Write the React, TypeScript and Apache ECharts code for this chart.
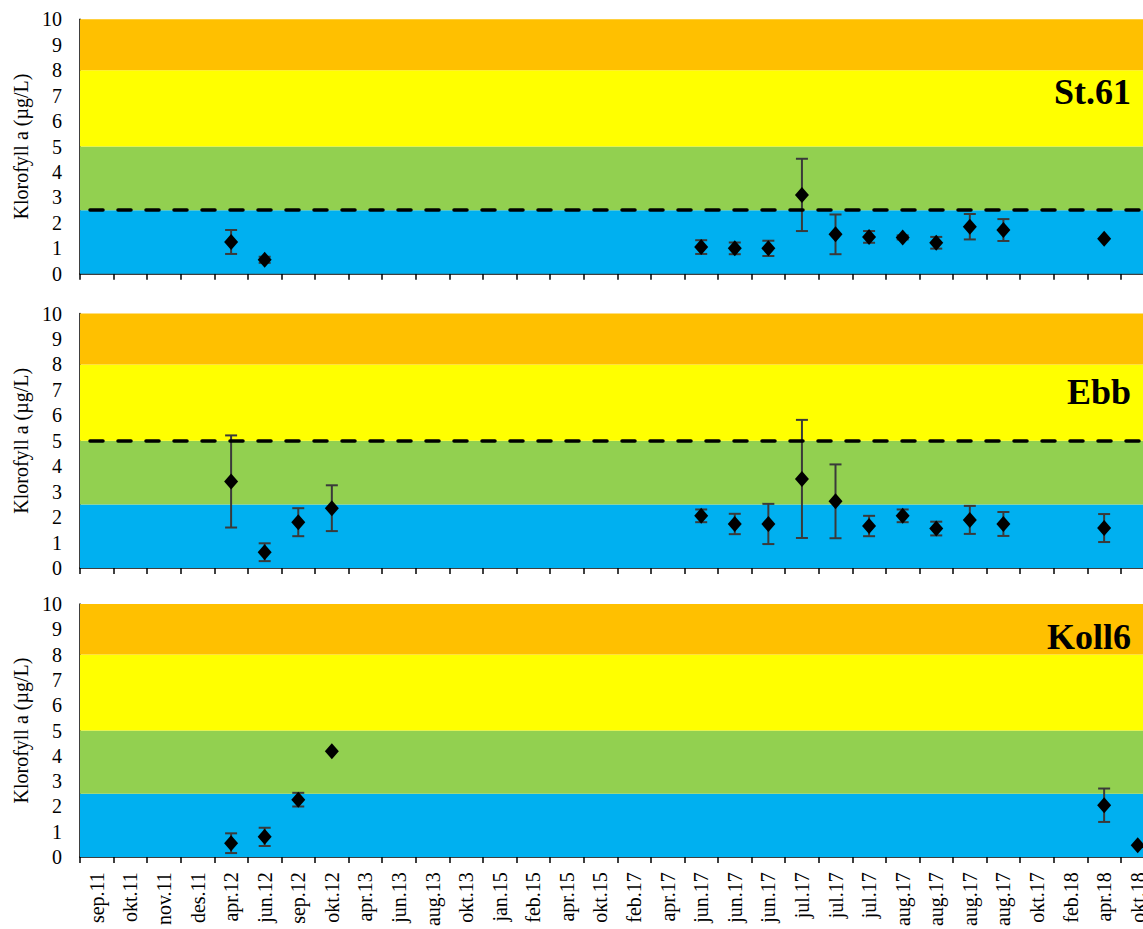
import React, { useEffect, useRef } from "react";
import * as echarts from "echarts";

const categories = [
  "sep.11", "okt.11", "nov.11", "des.11", "apr.12", "jun.12", "sep.12", "okt.12",
  "apr.13", "jun.13", "aug.13", "okt.13", "jan.15", "feb.15", "apr.15", "okt.15",
  "feb.17", "apr.17", "jun.17", "jun.17", "jun.17", "jul.17", "jul.17", "jul.17",
  "aug.17", "aug.17", "aug.17", "aug.17", "okt.17", "feb.18", "apr.18", "okt.18",
];

const yTicks = [0, 1, 2, 3, 4, 5, 6, 7, 8, 9, 10];

const st61Values = [
  null, null, null, null, 1.25, 0.55, null, null,
  null, null, null, null, null, null, null, null,
  null, null, 1.05, 1.0, 1.0, 3.1, 1.55, 1.45,
  1.43, 1.22, 1.85, 1.72, null, null, 1.38, null,
];
const st61Err = [
  0, 0, 0, 0, 0.47, 0.12, 0, 0,
  0, 0, 0, 0, 0, 0, 0, 0,
  0, 0, 0.27, 0.23, 0.3, 1.42, 0.78, 0.23,
  0.08, 0.23, 0.5, 0.43, 0, 0, 0, 0,
];

const ebbValues = [
  null, null, null, null, 3.4, 0.62, 1.8, 2.35,
  null, null, null, null, null, null, null, null,
  null, null, 2.05, 1.73, 1.73, 3.5, 2.62, 1.65,
  2.05, 1.55, 1.89, 1.73, null, null, 1.57, null,
];
const ebbErr = [
  0, 0, 0, 0, 1.81, 0.35, 0.55, 0.9,
  0, 0, 0, 0, 0, 0, 0, 0,
  0, 0, 0.25, 0.4, 0.79, 2.32, 1.45, 0.4,
  0.25, 0.27, 0.55, 0.47, 0, 0, 0.55, 0,
];

const koll6Values = [
  null, null, null, null, 0.55, 0.8, 2.27, 4.18,
  null, null, null, null, null, null, null, null,
  null, null, null, null, null, null, null, null,
  null, null, null, null, null, null, 2.05, 0.47,
];
const koll6Err = [
  0, 0, 0, 0, 0.39, 0.36, 0.27, 0,
  0, 0, 0, 0, 0, 0, 0, 0,
  0, 0, 0, 0, 0, 0, 0, 0,
  0, 0, 0, 0, 0, 0, 0.66, 0,
];

const stationNames = ["St.61", "Ebb", "Koll6"];
const thresholds = [2.5, 5, null];
const classBands = [
  { from: 0, to: 2.5, color: "#00B0F0" },
  { from: 2.5, to: 5, color: "#92D050" },
  { from: 5, to: 8, color: "#FFFF00" },
  { from: 8, to: 10, color: "#FFC000" },
];

const FONT = "'Liberation Serif', 'Times New Roman', serif";

export default function App() {
  const ref = useRef<HTMLDivElement>(null);

  useEffect(() => {
    if (!ref.current) return;
    const chart = echarts.init(ref.current, null, { renderer: "svg" });

    const panelValues = [st61Values, ebbValues, koll6Values];
    const panelErr = [st61Err, ebbErr, koll6Err];
    const gridTops = [19.3, 313.5, 604];
    const gridHeight = 254.5;
    const titleY = [92, 392, 637];

    const grids = gridTops.map((t) => ({
      left: 80,
      top: t,
      width: 1074.5,
      height: gridHeight,
      containLabel: false,
    }));

    const xAxes = gridTops.map((_, i) => ({
      type: "category",
      gridIndex: i,
      data: categories,
      boundaryGap: true,
      axisLine: { show: true, lineStyle: { color: "#000", width: 1.5 } },
      axisTick: { show: true, inside: false, length: 6, interval: 0, alignWithLabel: false, lineStyle: { color: "#000", width: 1.5 } },
      axisLabel: {
        show: i === 2,
        interval: 0,
        rotate: 90,
        margin: 15,
        fontSize: 20,
        fontFamily: FONT,
        color: "#000",
      },
      splitLine: { show: false },
    }));

    const yAxes = gridTops.map((_, i) => ({
      type: "value",
      gridIndex: i,
      min: yTicks[0],
      max: yTicks[yTicks.length - 1],
      interval: 1,
      name: "Klorofyll a (µg/L)",
      nameLocation: "middle",
      nameGap: 49,
      nameTextStyle: { fontSize: 20, fontFamily: FONT, color: "#000" },
      axisLine: { show: true, lineStyle: { color: "#000", width: 1.5 } },
      axisTick: { show: false },
      axisLabel: { fontSize: 20, fontFamily: FONT, color: "#000", margin: 18 },
      splitLine: { show: false },
    }));

    const series: any[] = [];
    panelValues.forEach((vals, p) => {
      // colour classes
      series.push({
        type: "line",
        xAxisIndex: p,
        yAxisIndex: p,
        data: [],
        silent: true,
        z: 1,
        markArea: {
          silent: true,
          data: classBands.map((b) => [
            { yAxis: b.from, itemStyle: { color: b.color, opacity: 1 } },
            { yAxis: b.to },
          ]),
        },
      });
      // threshold line
      if (thresholds[p] != null) {
        series.push({
          type: "line",
          xAxisIndex: p,
          yAxisIndex: p,
          data: [],
          silent: true,
          z: 4,
          markLine: {
            silent: true,
            symbol: ["none", "none"],
            label: { show: false },
            lineStyle: { color: "#000", type: [13, 15], dashOffset: -10, width: 3.5, cap: "round" },
            data: [{ yAxis: thresholds[p] }],
          },
        });
      }
      // error bars
      const errData: any[] = [];
      vals.forEach((v, i) => {
        if (v != null && panelErr[p][i] > 0) {
          errData.push([i, v - panelErr[p][i], v + panelErr[p][i]]);
        }
      });
      series.push({
        type: "custom",
        xAxisIndex: p,
        yAxisIndex: p,
        z: 3,
        encode: { x: 0, y: [1, 2] },
        data: errData,
        renderItem: (params: any, api: any) => {
          const x = api.value(0);
          const pLo = api.coord([x, api.value(1)]);
          const pHi = api.coord([x, api.value(2)]);
          const hw = 6;
          const style = { stroke: "#3a3a3a", lineWidth: 2 };
          return {
            type: "group",
            children: [
              { type: "line", shape: { x1: pLo[0], y1: pLo[1], x2: pHi[0], y2: pHi[1] }, style },
              { type: "line", shape: { x1: pLo[0] - hw, y1: pLo[1], x2: pLo[0] + hw, y2: pLo[1] }, style },
              { type: "line", shape: { x1: pHi[0] - hw, y1: pHi[1], x2: pHi[0] + hw, y2: pHi[1] }, style },
            ],
          };
        },
      });
      // diamonds
      series.push({
        type: "scatter",
        xAxisIndex: p,
        yAxisIndex: p,
        z: 5,
        symbol: "diamond",
        symbolSize: [14, 16],
        itemStyle: { color: "#000", opacity: 1 },
        data: vals.map((v, i) => (v == null ? [i, "-"] : [i, v])),
      });
    });

    const graphic = stationNames.map((name, i) => ({
      type: "text",
      x: 1131,
      y: titleY[i],
      style: {
        text: name,
        fontSize: 36,
        fontWeight: "bold",
        fontFamily: FONT,
        fill: "#000",
        textAlign: "right",
        textVerticalAlign: "middle",
      },
      z: 10,
    }));

    chart.setOption({
      animation: false,
      backgroundColor: "#fff",
      grid: grids,
      xAxis: xAxes,
      yAxis: yAxes,
      series,
      graphic,
    });

    return () => chart.dispose();
  }, []);

  return (
    <div style={{ position: "fixed", left: 0, top: 0, width: 1143, height: 929, overflow: "hidden", background: "#fff" }}>
      <div ref={ref} style={{ width: 1160, height: 929 }} />
    </div>
  );
}
